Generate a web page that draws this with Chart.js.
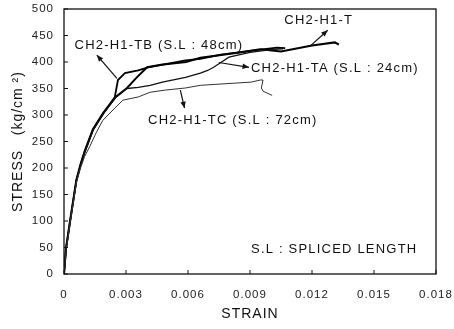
<!DOCTYPE html>
<html><head><meta charset="utf-8">
<script src="https://cdn.jsdelivr.net/npm/chart.js@4/dist/chart.umd.min.js"></script>
<style>html,body{margin:0;padding:0;background:#fff;}#wrap{width:454px;height:329px;}</style>
</head><body><div id="wrap"><canvas id="c" width="454" height="329"></canvas></div>
<script>
// Tick values / labels
const xTickValues = [0, 0.003, 0.006, 0.009, 0.012, 0.015, 0.018];
const xTickLabels = ["0", "0.003", "0.006", "0.009", "0.012", "0.015", "0.018"];
const yTickValues = [0, 50, 100, 150, 200, 250, 300, 350, 400, 450, 500];

// CH2-H1-T
const tStrain = [0, 0.0001, 0.0003, 0.0006, 0.0008, 0.001, 0.0014, 0.0019, 0.0025, 0.00305, 0.0035, 0.00402, 0.0047, 0.0059, 0.0066, 0.0076, 0.0085, 0.0095, 0.0105, 0.012, 0.0131, 0.0133];
const tStress = [0, 50, 102, 178, 207, 232, 273, 304, 334, 351, 370, 390, 395, 400, 408, 413, 418, 424, 420, 431, 437, 433];
// CH2-H1-TB (S.L : 48cm)
const tbStrain = [0, 0.0001, 0.0003, 0.0006, 0.0008, 0.001, 0.0014, 0.0019, 0.00246, 0.00261, 0.00295, 0.00359, 0.00407, 0.00466, 0.00588, 0.0066, 0.0076, 0.009, 0.0103, 0.0107];
const tbStress = [0, 48, 100, 176, 205, 230, 272, 303, 334, 366, 379, 384, 390, 394, 403, 406, 414, 421, 427, 426];
// CH2-H1-TA (S.L : 24cm)
const taStrain = [0, 0.0001, 0.0003, 0.0006, 0.0008, 0.001, 0.0014, 0.0019, 0.0025, 0.00305, 0.00359, 0.00417, 0.00476, 0.00588, 0.0066, 0.00695, 0.00724, 0.00759, 0.00798, 0.009, 0.0101, 0.0106];
const taStress = [0, 46, 100, 177, 204, 229, 271, 302, 333, 350, 352, 356, 362, 371, 379, 384, 390, 399, 409, 418, 424, 425];
// CH2-H1-TC (S.L : 72cm)
const tcStrain = [0, 0.0001, 0.0003, 0.0006, 0.0008, 0.001, 0.00124, 0.00155, 0.00188, 0.00246, 0.00285, 0.00359, 0.00417, 0.0049, 0.00588, 0.0066, 0.00822, 0.00905, 0.0095, 0.00963, 0.00955, 0.00963, 0.01007];
const tcStress = [0, 45, 98, 172, 200, 222, 240, 266, 290, 313, 328, 334, 343, 347, 351, 356, 360, 362, 366, 366, 351, 345, 337];

// Annotations (data coordinates)
const labelTexts = ["CH2-H1-TB (S.L : 48cm)", "CH2-H1-T", "CH2-H1-TA (S.L : 24cm)", "CH2-H1-TC (S.L : 72cm)", "S.L : SPLICED LENGTH"];
const labelX = [0.00051, 0.01066, 0.00905, 0.00407, 0.00905];
const labelY = [431, 478, 388, 290, 46];
const arrowFromX = [0.00256, 0.01188, 0.00749, 0.00563];
const arrowFromY = [369, 429, 399, 347];
const arrowToX = [0.00159, 0.01276, 0.00895, 0.00583];
const arrowToY = [413, 460, 390, 313];

const FONT = "'Liberation Sans', Arial, sans-serif";
function pts(xs, ys){ return xs.map((x,i)=>({x:x, y:ys[i]})); }

const annotatePlugin = {
  id: 'annot',
  beforeDraw(chart){ chart.ctx.letterSpacing = '1px'; },
  afterDraw(chart){
    const ctx = chart.ctx, xs = chart.scales.x, ys = chart.scales.y, a = chart.chartArea;
    ctx.save();
    // frame
    ctx.strokeStyle = '#111'; ctx.lineWidth = 1.3;
    ctx.strokeRect(a.left, a.top, a.right - a.left, a.bottom - a.top);
    // inward ticks
    ctx.lineWidth = 1;
    xTickValues.forEach(v=>{ const p = xs.getPixelForValue(v); ctx.beginPath(); ctx.moveTo(p, a.bottom); ctx.lineTo(p, a.bottom-4); ctx.stroke(); });
    yTickValues.forEach(v=>{ const p = ys.getPixelForValue(v); ctx.beginPath(); ctx.moveTo(a.left, p); ctx.lineTo(a.left+4, p); ctx.stroke(); });
    // labels
    ctx.fillStyle = '#111'; ctx.font = "13px " + FONT; ctx.letterSpacing = '1.2px';
    ctx.textBaseline = 'middle'; ctx.textAlign = 'left';
    labelTexts.forEach((t,i)=>{ ctx.fillText(t, xs.getPixelForValue(labelX[i]), ys.getPixelForValue(labelY[i])); });
    // arrows
    ctx.lineWidth = 1.2;
    arrowFromX.forEach((fx,i)=>{
      const x1 = xs.getPixelForValue(fx), y1 = ys.getPixelForValue(arrowFromY[i]);
      const x2 = xs.getPixelForValue(arrowToX[i]), y2 = ys.getPixelForValue(arrowToY[i]);
      ctx.beginPath(); ctx.moveTo(x1,y1); ctx.lineTo(x2,y2); ctx.stroke();
      const ang = Math.atan2(y2-y1, x2-x1), L = 7, w = 0.4;
      ctx.beginPath(); ctx.moveTo(x2,y2);
      ctx.lineTo(x2 - L*Math.cos(ang-w), y2 - L*Math.sin(ang-w));
      ctx.lineTo(x2 - L*Math.cos(ang+w), y2 - L*Math.sin(ang+w));
      ctx.closePath(); ctx.fill();
    });
    ctx.restore();
  }
};

const ds = (label, xs, ys, w, col) => ({label, data: pts(xs, ys), showLine: true, borderColor: col, borderWidth: w, pointRadius: 0, fill: false, tension: 0});

new Chart(document.getElementById('c'), {
  type: 'scatter',
  data: { datasets: [
    ds('CH2-H1-TC', tcStrain, tcStress, 1, '#333'),
    ds('CH2-H1-TA', taStrain, taStress, 1.3, '#111'),
    ds('CH2-H1-TB', tbStrain, tbStress, 1.8, '#000'),
    ds('CH2-H1-T', tStrain, tStress, 2, '#000')
  ]},
  options: {
    responsive: false, animation: false, devicePixelRatio: 1,
    layout: { padding: { left: 0, top: 9, right: 18, bottom: 0 } },
    plugins: { legend: { display: false }, tooltip: { enabled: false } },
    scales: {
      x: { type: 'linear', min: 0, max: 0.018,
        afterBuildTicks: s => { s.ticks = xTickValues.map(v => ({value: v})); },
        ticks: { callback: (v, i) => xTickLabels[i], color: '#222', font: { size: 11.5, family: FONT }, padding: 14, maxRotation: 0, autoSkip: false },
        grid: { display: false, drawTicks: false }, border: { display: false },
        title: { display: true, text: 'STRAIN', color: '#111', font: { size: 14, family: FONT }, padding: { top: 0, bottom: 6 } },
        afterFit: s => { s.height = 55; s.paddingLeft = 0; s.paddingRight = 0; }
      },
      y: { type: 'linear', min: 0, max: 500,
        afterBuildTicks: s => { s.ticks = yTickValues.map(v => ({value: v})); },
        ticks: { color: '#222', font: { size: 11.5, family: FONT }, padding: 10, autoSkip: false },
        grid: { display: false, drawTicks: false }, border: { display: false },
        title: { display: true, text: 'STRESS   (kg/cm ²)', color: '#111', font: { size: 14, family: FONT }, padding: { top: 10, bottom: 0 } },
        afterFit: s => { s.width = 64; s.paddingTop = 0; s.paddingBottom = 0; }
      }
    }
  },
  plugins: [annotatePlugin]
});
</script></body></html>
